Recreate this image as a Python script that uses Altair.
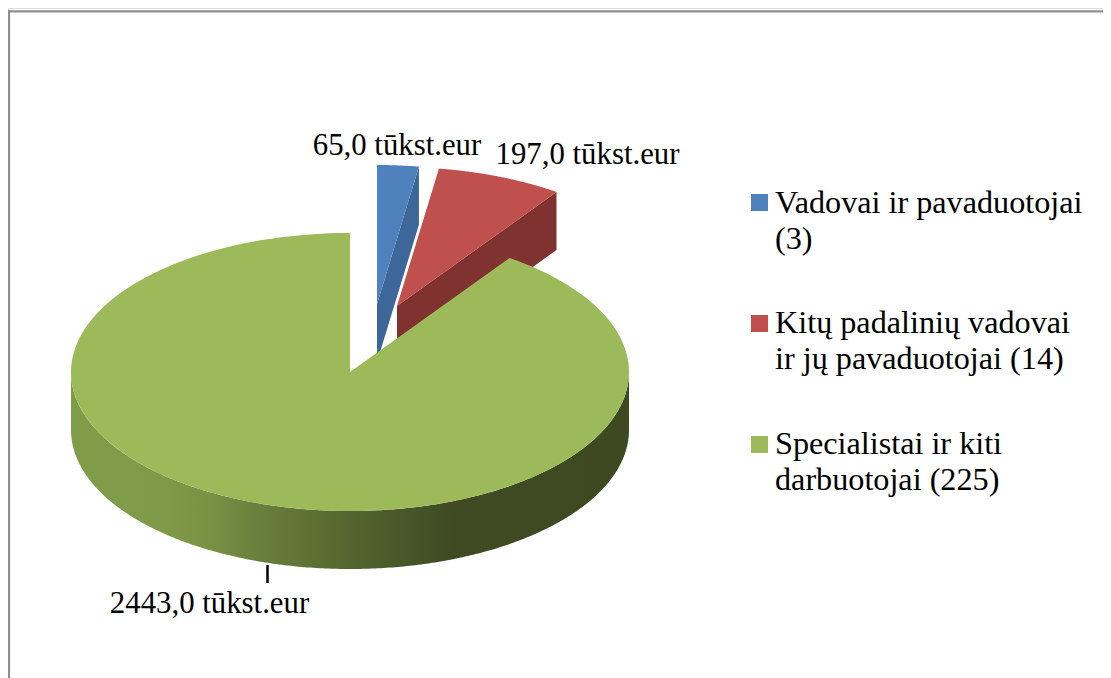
import numpy as np
import pandas as pd
import altair as alt

# values
categories = ["Vadovai ir pavaduotojai\n(3)",
              "Kitų padalinių vadovai\nir jų pavaduotojai (14)",
              "Specialistai ir kiti\ndarbuotojai (225)"]
values = [65.0, 197.0, 2443.0]
value_labels = ["65,0 tūkst.eur", "197,0 tūkst.eur", "2443,0 tūkst.eur"]
top_colors = ["#4f81bd", "#c0504d", "#9cba5a"]
wall_colors = ["#3d6699", "#7f3230"]

# drawing geometry
W, H = 1095, 670
RX, RY, DEPTH = 279.0, 139.0, 58.0
apexes = [(377.0, 304.0), (397.0, 306.0), (350.0, 372.0)]
label_pos = [(397, 155), (587.5, 164), (209.5, 613)]
key_y = [202.5, 323.5, 444.5]
key_text_y = [213, 333, 454]

xs = alt.Scale(domain=[8, 8 + W], range=[0, W], zero=False, nice=False)
ys = alt.Scale(domain=[8 + H, 8], range=[H, 0], zero=False, nice=False)
X = lambda f="x": alt.X(f"{f}:Q", scale=xs, axis=None)
Y = lambda f="y": alt.Y(f"{f}:Q", scale=ys, axis=None)
fill_scale = alt.Scale(domain=categories, range=top_colors)

total = sum(values)
edges = np.concatenate([[0.0], np.cumsum(values)]) / total * 2 * np.pi

tops = []
walls = []
for k, cat in enumerate(categories):
    ax, ay = apexes[k]
    th = np.linspace(edges[k], edges[k + 1], 160)
    px = [ax] + list(ax + RX * np.sin(th))
    py = [ay] + list(ay - RY * np.cos(th))
    for i, (a, b) in enumerate(zip(px, py)):
        tops.append(dict(slice=cat, i=i, x=a, y=b))
    if k < 2:
        fx = [px[-1], px[0], px[0], px[-1]]
        fy = [py[-1], py[0], py[0] + DEPTH, py[-1] + DEPTH]
        walls.append(pd.DataFrame(dict(i=range(4), x=fx, y=fy)))
tops = pd.DataFrame(tops)

th = np.linspace(np.pi / 2, 3 * np.pi / 2, 300)
rim = pd.DataFrame(dict(
    x=apexes[2][0] + RX * np.sin(th)[::-1],
    y=apexes[2][1] - RY * np.cos(th)[::-1],
))
rim["y2"] = rim["y"] + DEPTH

side_stops = [(0.0, "#809c49"), (0.17, "#7f9a48"), (0.25, "#789144"),
              (0.35, "#677d3b"), (0.47, "#576b31"), (0.58, "#4a5a2a"),
              (0.68, "#3f4a22"), (1.0, "#3e4921")]
gradient = alt.LinearGradient(
    gradient="linear", x1=0, x2=1, y1=0, y2=0,
    stops=[alt.GradientStop(offset=o, color=c) for o, c in side_stops],
)

layers = []

left = pd.DataFrame(dict(x=[9.0], y=[10.0], y2=[8.0 + H]))
layers.append(alt.Chart(left).mark_rule(color="#8f8f8f", strokeWidth=2.2).encode(
    x=X(), y=Y(), y2="y2:Q"))
top = pd.DataFrame(dict(x=[8.0], x2=[8.0 + W], y=[11.3]))
layers.append(alt.Chart(top).mark_rule(color="#8f8f8f", strokeWidth=2.2).encode(
    x=X(), x2="x2:Q", y=Y()))

for w, c in zip(walls, wall_colors):
    layers.append(alt.Chart(w).mark_line(fill=c, strokeWidth=0).encode(
        x=X(), y=Y(), order="i:Q"))

layers.append(alt.Chart(rim).mark_area(color=gradient).encode(x=X(), y=Y(), y2="y2:Q"))

layers.append(alt.Chart(tops).mark_line(strokeWidth=0).encode(
    x=X(), y=Y(), order="i:Q",
    fill=alt.Fill("slice:N", scale=fill_scale, legend=None),
))

leader = pd.DataFrame(dict(x=[267.5], y=[565.0], y2=[583.0]))
layers.append(alt.Chart(leader).mark_rule(color="#000000", strokeWidth=2.5).encode(
    x=X(), y=Y(), y2="y2:Q"))

labels = pd.DataFrame(dict(text=value_labels,
                           x=[p[0] for p in label_pos],
                           y=[p[1] for p in label_pos]))
layers.append(alt.Chart(labels).mark_text(
    font="Liberation Serif", fontSize=30.8, color="#000000",
    align="center", baseline="alphabetic").encode(x=X(), y=Y(), text="text:N"))

key = pd.DataFrame(dict(slice=categories, x=[759.5] * 3, y=key_y,
                        tx=[775] * 3, ty=key_text_y))
layers.append(alt.Chart(key).mark_square(size=289, opacity=1, strokeWidth=0).encode(
    x=X(), y=Y(), fill=alt.Fill("slice:N", scale=fill_scale, legend=None)))
layers.append(alt.Chart(key).mark_text(
    font="Liberation Serif", fontSize=32.2, color="#000000", lineBreak="\n",
    lineHeight=36, align="left", baseline="alphabetic").encode(
    x=X("tx"), y=Y("ty"), text="slice:N"))

chart = alt.layer(*layers).properties(
    width=W, height=H, padding=0, autosize=alt.AutoSizeParams(type="none"),
).configure_view(stroke=None).configure(background="#ffffff")

chart.save("out.html", embed_options={"renderer": "svg", "actions": False})
